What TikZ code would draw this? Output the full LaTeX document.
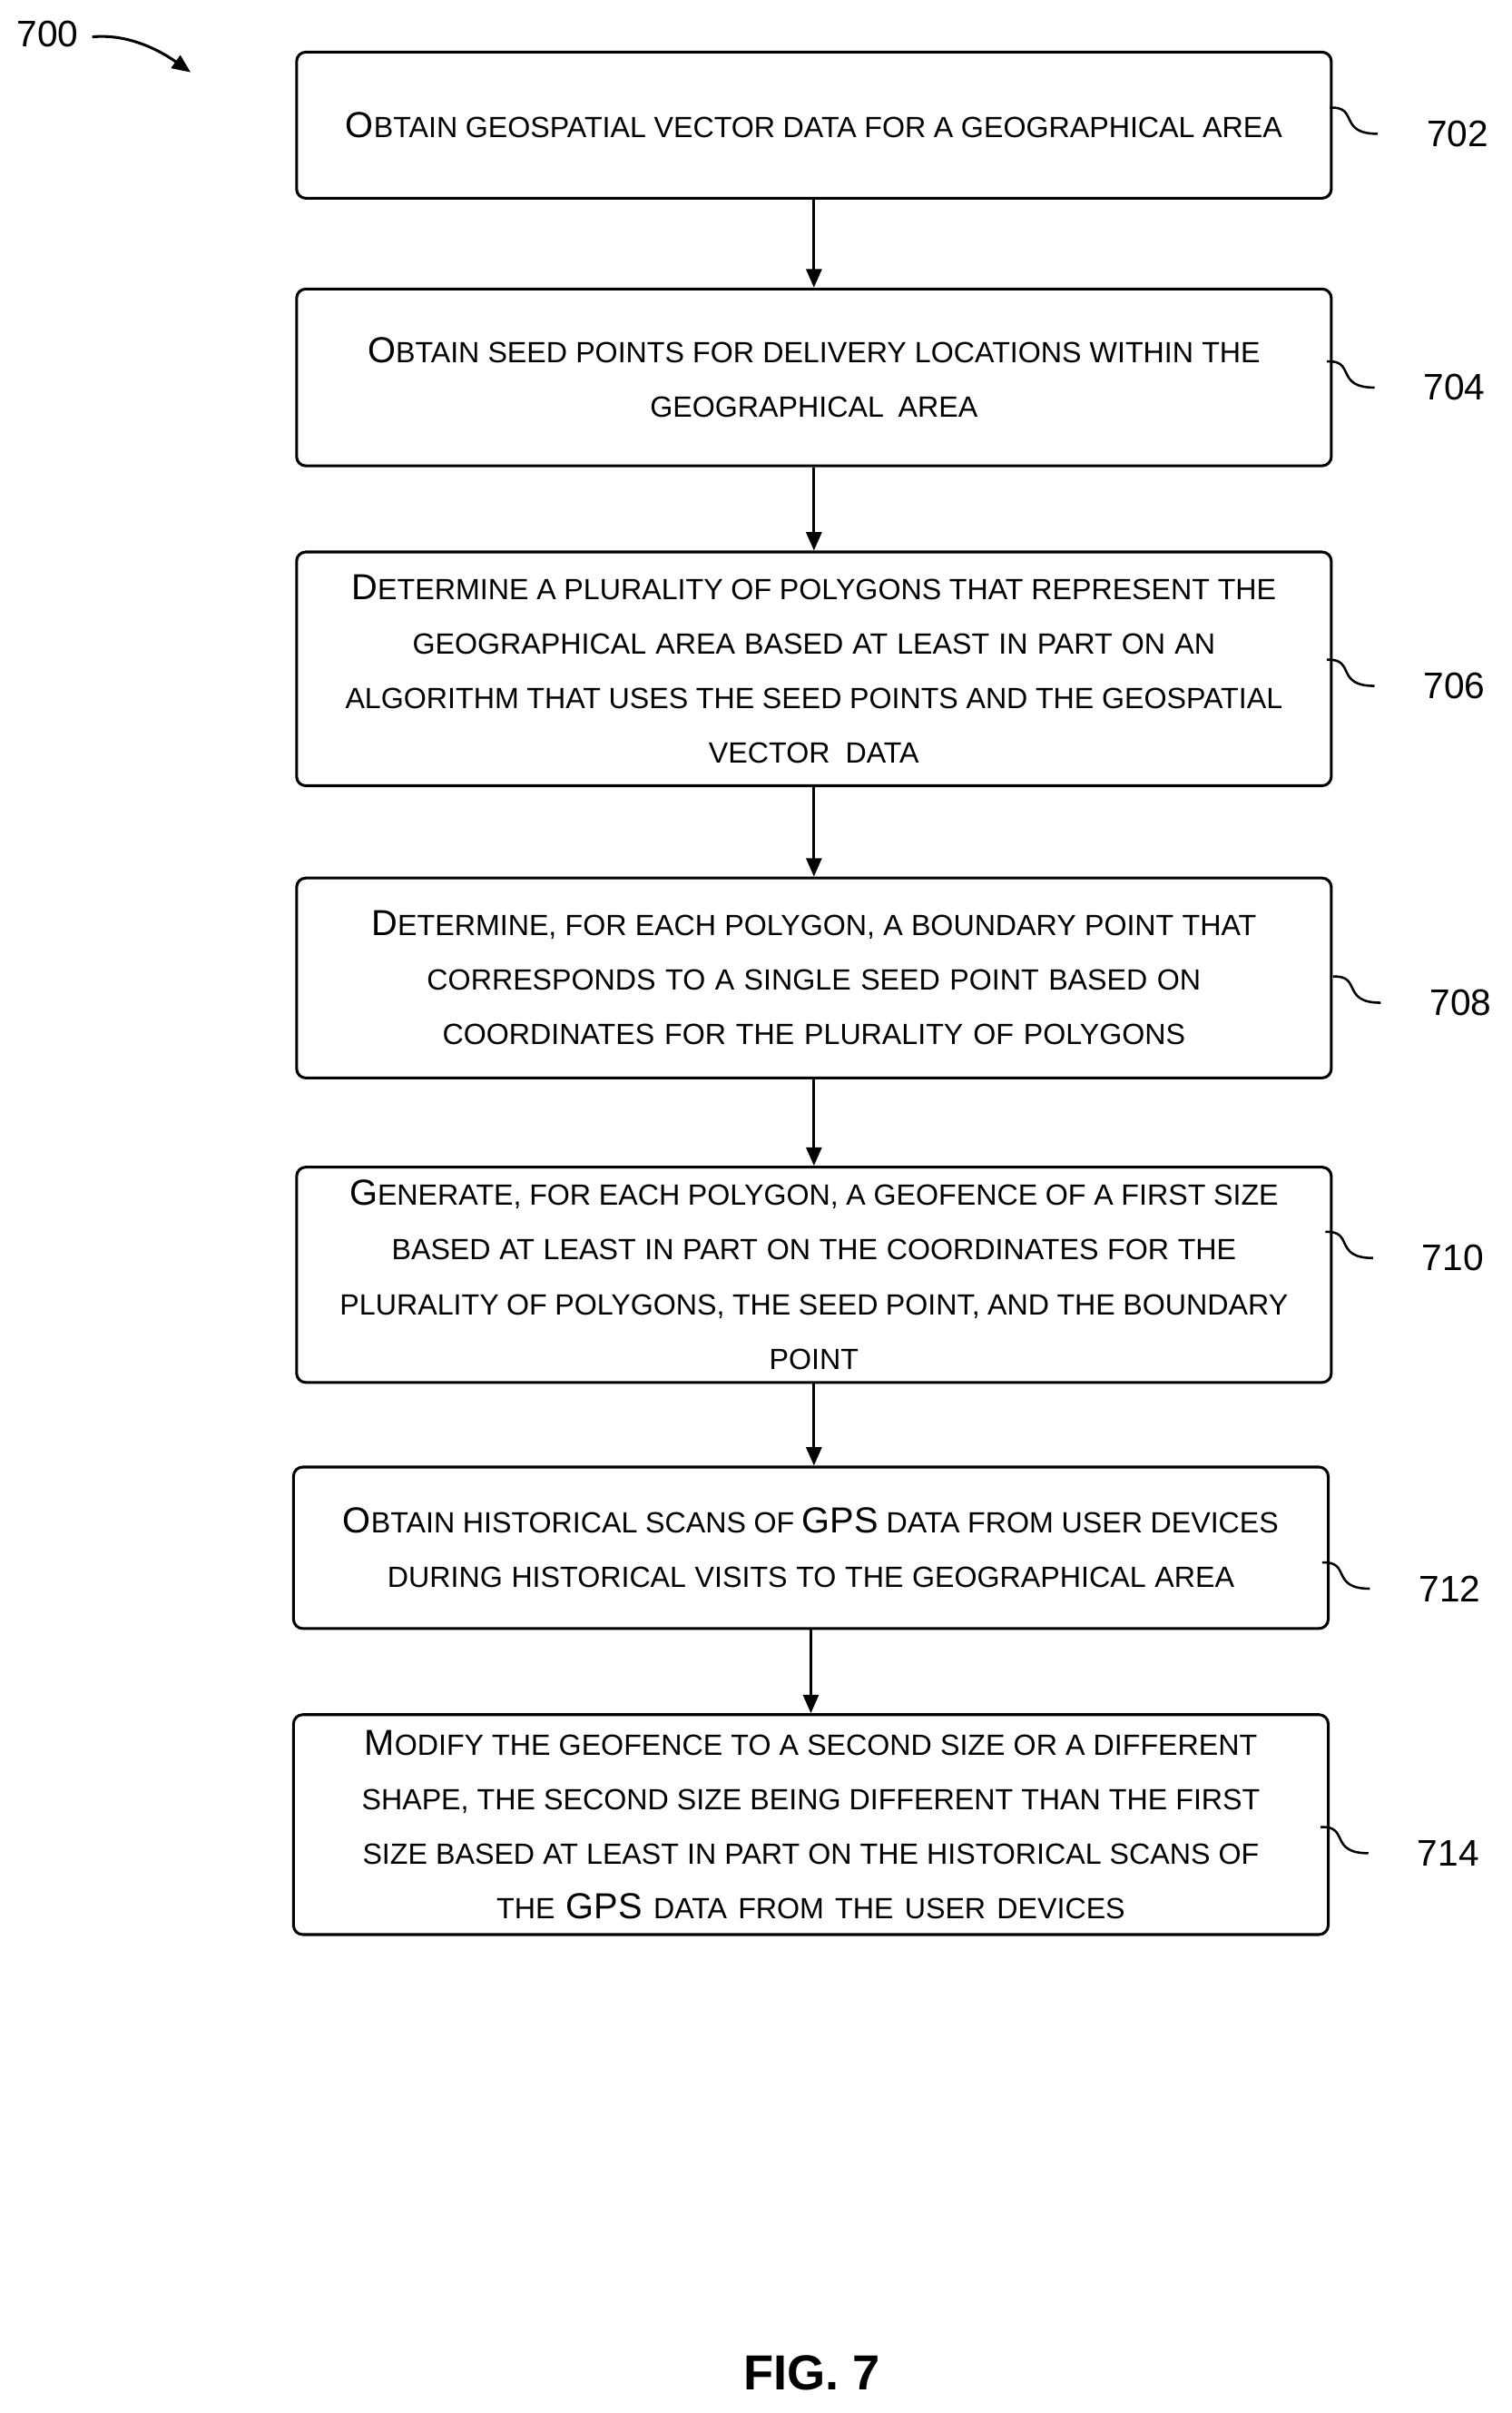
\documentclass[tikz,border=0pt]{standalone}
\usepackage{fontspec}
\setmainfont{Liberation Sans}
\usetikzlibrary{arrows.meta}
\newcommand{\sm}[1]{{\fontsize{19}{35.5}\selectfont #1}}
\begin{document}
\begin{tikzpicture}[x=1pt,y=-1pt,
  box/.style={draw,line width=1.8pt,rounded corners=6pt,anchor=north west,inner sep=0pt,align=center,font=\fontsize{23.5}{35.5}\selectfont,execute at begin node={\hyphenpenalty=10000\exhyphenpenalty=10000\spaceskip=4.5pt plus 1pt}},
  arr/.style={line width=1.8pt,-{Triangle[length=12pt,width=10pt]}},
  lbl/.style={font=\fontsize{24}{28}\selectfont},
  sq/.style={line width=1.5pt}]
\useasboundingbox (0,0) rectangle (983,1569);
\newcommand{\bx}[6]{\node[box,minimum width=#3,minimum height=#4,text width=#3-10] (#5) at (#1,#2) {#6};}
\bx{192}{33}{673}{95}{b702}{O\sm{BTAIN GEOSPATIAL VECTOR DATA FOR A GEOGRAPHICAL AREA}}
\bx{192}{187}{673}{115}{b704}{O\sm{BTAIN SEED POINTS FOR DELIVERY LOCATIONS WITHIN THE}\\\sm{GEOGRAPHICAL AREA}}
\bx{192}{358}{673}{152}{b706}{D\sm{ETERMINE A PLURALITY OF POLYGONS THAT REPRESENT THE}\\\sm{GEOGRAPHICAL AREA BASED AT LEAST IN PART ON AN}\\\sm{ALGORITHM THAT USES THE SEED POINTS AND THE GEOSPATIAL}\\\sm{VECTOR DATA}}
\bx{192}{570}{673}{130}{b708}{D\sm{ETERMINE, FOR EACH POLYGON, A BOUNDARY POINT THAT}\\\sm{CORRESPONDS TO A SINGLE SEED POINT BASED ON}\\\sm{COORDINATES FOR THE PLURALITY OF POLYGONS}}
\bx{192}{758}{673}{140}{b710}{G\sm{ENERATE, FOR EACH POLYGON, A GEOFENCE OF A FIRST SIZE}\\\sm{BASED AT LEAST IN PART ON THE COORDINATES FOR THE}\\\sm{PLURALITY OF POLYGONS, THE SEED POINT, AND THE BOUNDARY}\\\sm{POINT}}
\bx{190}{953}{673}{105}{b712}{O\sm{BTAIN HISTORICAL SCANS OF} GPS \sm{DATA FROM USER DEVICES}\\\sm{DURING HISTORICAL VISITS TO THE GEOGRAPHICAL AREA}}
\bx{190}{1114}{673}{143}{b714}{M\sm{ODIFY THE GEOFENCE TO A SECOND SIZE OR A DIFFERENT}\\\sm{SHAPE, THE SECOND SIZE BEING DIFFERENT THAN THE FIRST}\\\sm{SIZE BASED AT LEAST IN PART ON THE HISTORICAL SCANS OF}\\\sm{THE} GPS \sm{DATA FROM THE USER DEVICES}}
\foreach \a/\b in {b702/b704,b704/b706,b706/b708,b708/b710,b710/b712,b712/b714}{\draw[arr] (\a.south) -- (\a.south |- \b.north);}
\foreach \n/\x/\y in {702/948/87,704/946/252,706/946/446,708/950/652,710/945/818,712/943/1033,714/942/1205}{
  \node[lbl] (l\n) at (\x,\y) {\n};
  \draw[sq] (\x-83,\y-17) .. controls (\x-64,\y-18) and (\x-78,\y) .. (\x-52,\y);}
\node[lbl] (l700) at (31,22) {700};
\coordinate (a700) at (124,47);
\draw[line width=1.8pt,-{Triangle[length=12pt,width=10pt]}] (60,24) .. controls (80,22) and (100,30) .. (a700);
\node[font=\bfseries\fontsize{32}{38}\selectfont] (fig) at (528,1543) {FIG. 7};
\end{tikzpicture}
\end{document}
